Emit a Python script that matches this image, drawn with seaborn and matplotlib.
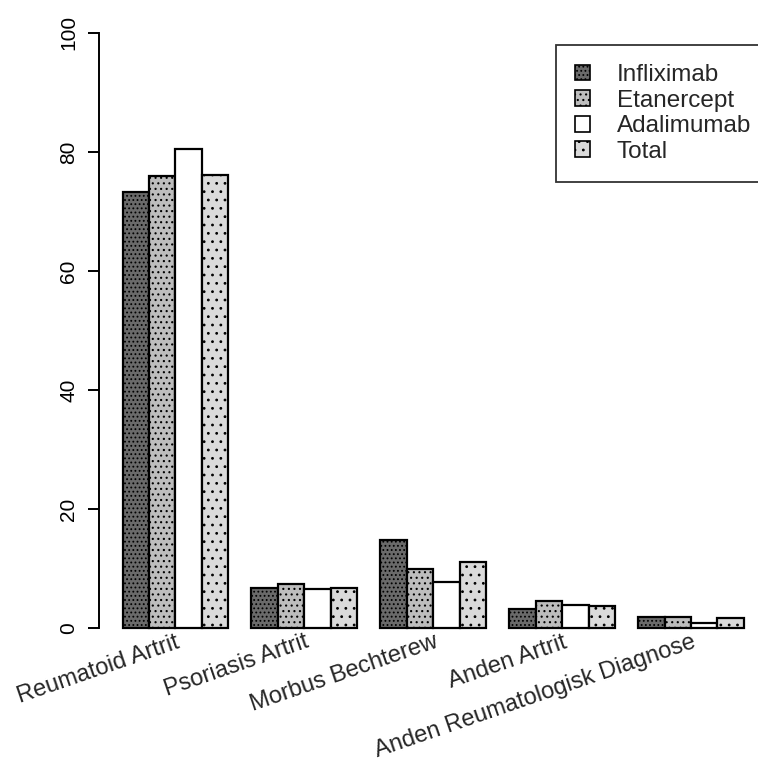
import matplotlib
matplotlib.use("Agg")
import matplotlib.pyplot as plt
import seaborn as sns
import pandas as pd
from matplotlib.patches import Patch

categories = ["Reumatoid Artrit", "Psoriasis Artrit", "Morbus Bechterew",
              "Anden Artrit", "Anden Reumatologisk Diagnose"]
infliximab = [73.2, 6.8, 14.8, 3.2, 1.8]
etanercept = [76.0, 7.5, 10.0, 4.5, 1.8]
adalimumab = [80.5, 6.6, 7.8, 3.9, 0.8]
total = [76.1, 6.7, 11.2, 3.7, 1.7]
series_names = ["Infliximab", "Etanercept", "Adalimumab", "Total"]
y_ticks = [0, 20, 40, 60, 80, 100]

rows = []
for name, vals in zip(series_names, [infliximab, etanercept, adalimumab, total]):
    for c, v in zip(categories, vals):
        rows.append({"diag": c, "drug": name, "pct": v})
df = pd.DataFrame(rows)

sns.set_style("white")
plt.rcParams["font.family"] = ["Liberation Sans", "DejaVu Sans"]
plt.rcParams["hatch.linewidth"] = 0.8

W, H = 758, 767
fig = plt.figure(figsize=(W / 100, H / 100), dpi=100)
# axes: left at x=99px, right beyond edge; y range -4..104 -> pixels 652..9
ax = fig.add_axes([99 / W, 1 - 652 / H, 1 - 99 / W, (652 - 9) / H])

colors = {"Infliximab": "#6a6a6a", "Etanercept": "#bdbdbd",
          "Adalimumab": "#ffffff", "Total": "#dadada"}
hatches = {"Infliximab": "....", "Etanercept": "...", "Adalimumab": "", "Total": ".."}

sns.barplot(data=df, x="diag", y="pct", hue="drug", order=categories,
            hue_order=series_names, palette=colors, width=0.82,
            edgecolor="black", linewidth=1.6, ax=ax, legend=False)

for cont, name in zip(ax.containers, series_names):
    for bar in cont:
        bar.set_hatch(hatches[name])

ax.set_xlim(-0.593, 4.52)
ax.set_ylim(-4, 104)
ax.set_xlabel("")
ax.set_ylabel("")
ax.set_xticks([])
for s in ["top", "right", "bottom"]:
    ax.spines[s].set_visible(False)
ax.spines["left"].set_bounds(0, 100)
ax.spines["left"].set_linewidth(1.4)
ax.spines["left"].set_color("black")
ax.set_yticks(y_ticks)
ax.set_yticklabels([str(t) for t in y_ticks], rotation=90, va="center",
                   fontsize=15)
ax.tick_params(axis="y", direction="out", length=8, width=1.4, pad=7,
               left=True, colors="black")

for i, lab in enumerate(categories):
    ax.text(i, -0.5, lab, ha="right", va="top", rotation=19,
            rotation_mode="anchor", fontsize=17, clip_on=False)

handles = [Patch(facecolor=colors[n], edgecolor="black", hatch=hatches[n],
                 linewidth=1.2) for n in series_names]
fs = 17.5
leg = fig.legend(handles, series_names, loc="upper left",
                 bbox_to_anchor=(556 / W, 1 - 45 / H),
                 bbox_transform=fig.transFigure,
                 fontsize=fs, frameon=True, fancybox=False,
                 handlelength=0.62, handleheight=0.62, handletextpad=1.1,
                 labelspacing=0.15, borderpad=0.78, borderaxespad=0)
leg.get_frame().set_edgecolor("black")
leg.get_frame().set_linewidth(1.3)

fig.savefig("out.png", dpi=100)
